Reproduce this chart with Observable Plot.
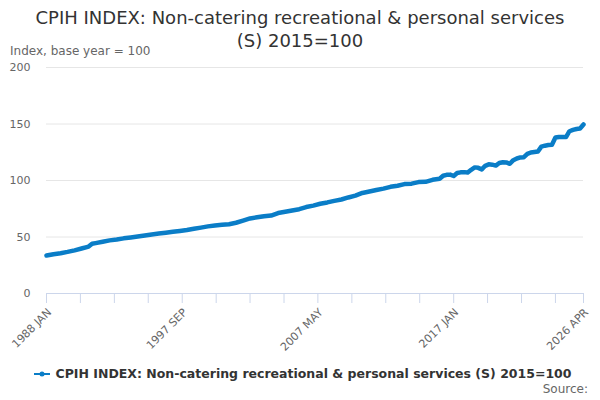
<!DOCTYPE html>
<html>
<head>
<meta charset="utf-8">
<script src="https://cdn.jsdelivr.net/npm/d3@7"></script>
<script src="https://cdn.jsdelivr.net/npm/@observablehq/plot@0.6"></script>
<style>
  body { margin: 0; background: #fff; font-family: "DejaVu Sans", sans-serif; }
  #wrap { position: relative; width: 600px; height: 400px; overflow: hidden; }
  #chart { position: absolute; left: 0; top: 0; }
  .t { position: absolute; white-space: nowrap; }
  #title { left: 0; width: 600px; top: 6px; text-align: center; font-size: 18px; line-height: 23px; color: #333; }
  #sub { left: 10px; top: 44px; font-size: 12px; color: #666; }
  #legend { left: 3px; width: 600px; top: 366px; text-align: center; font-size: 12.5px; font-weight: bold; color: #333; }
  #legend svg { vertical-align: -1px; margin-right: 5px; }
  #source { right: 12px; top: 382px; font-size: 12px; color: #666; }
</style>
</head>
<body>
<div id="wrap">
  <div id="chart"></div>
  <div class="t" id="title">CPIH INDEX: Non-catering recreational &amp; personal services<br>(S) 2015=100</div>
  <div class="t" id="sub">Index, base year = 100</div>
  <div class="t" id="legend"><svg width="16" height="10"><line x1="0" y1="5" x2="16" y2="5" stroke="#0a7dc7" stroke-width="2"/><circle cx="8" cy="5" r="2.5" fill="#0a7dc7"/></svg>CPIH INDEX: Non-catering recreational &amp; personal services (S) 2015=100</div>
  <div class="t" id="source">Source:</div>
</div>
<script>
const periods = [
  "1988 JAN","1988 JUL","1989 JAN","1989 JUL","1990 JAN","1990 JUL",
  "1991 JAN","1991 APR","1991 JUL","1992 JAN","1992 JUL","1993 JAN","1993 JUL",
  "1994 JAN","1994 JUL","1995 JAN","1995 JUL","1996 JAN","1996 JUL",
  "1997 JAN","1997 JUL","1998 JAN","1998 JUL","1999 JAN","1999 JUL",
  "2000 JAN","2000 JUL","2001 JAN","2001 JUL","2002 JAN","2002 JUL",
  "2003 JAN","2003 JUL","2004 JAN","2004 JUL","2005 JAN","2005 JUL",
  "2006 JAN","2006 JUL","2007 JAN","2007 JUL","2008 JAN","2008 JUL",
  "2009 JAN","2009 JUL","2010 JAN","2010 JUL","2011 JAN","2011 JUL",
  "2012 JAN","2012 JUL","2013 JAN","2013 JUL","2014 JAN","2014 JUL",
  "2015 JAN","2015 JUL",
  "2016 JAN","2016 APR","2016 JUL","2016 OCT",
  "2017 JAN","2017 APR","2017 JUL","2017 OCT",
  "2018 JAN","2018 APR","2018 JUL","2018 OCT",
  "2019 JAN","2019 APR","2019 JUL","2019 OCT",
  "2020 JAN","2020 APR","2020 JUL","2020 OCT",
  "2021 JAN","2021 APR","2021 JUL","2021 OCT",
  "2022 JAN","2022 APR","2022 JUL","2022 OCT",
  "2023 JAN","2023 APR","2023 JUL","2023 OCT",
  "2024 JAN","2024 APR","2024 JUL","2024 OCT",
  "2025 JAN","2025 APR","2025 JUL","2025 OCT",
  "2026 JAN","2026 APR"
];
const values = [
  33.6,34.8,35.6,36.8,38.2,39.8,
  41.5,44.0,44.6,45.8,47.0,47.8,48.8,
  49.6,50.5,51.4,52.3,53.0,53.8,
  54.6,55.4,56.2,57.3,58.3,59.4,
  60.2,60.8,61.3,62.6,64.5,66.4,
  67.4,68.3,69.0,71.2,72.3,73.5,
  74.6,76.5,77.8,79.4,80.6,82.0,
  83.2,85.0,86.6,89.0,90.3,91.6,
  92.8,94.4,95.4,96.8,97.2,98.6,
  98.8,100.6,
  101.5,104.2,105.0,105.2,
  104.0,106.6,107.2,107.4,
  107.0,109.5,111.6,111.2,
  109.8,113.0,114.3,114.0,
  113.2,115.5,116.2,116.0,
  114.8,118.0,119.5,120.4,
  120.6,123.5,124.8,125.2,
  125.6,130.0,130.8,131.4,
  131.6,138.0,138.5,138.6,
  138.4,143.6,144.8,145.6,
  146.0,149.6
];
const tickPeriods = [
  "1988 JAN","1990 JUN","1992 NOV","1995 APR","1997 SEP","2000 FEB","2002 JUL","2004 DEC",
  "2007 MAY","2009 OCT","2012 MAR","2014 AUG","2017 JAN","2019 JUN","2021 NOV","2024 APR","2026 APR"
];
const labelPeriods = ["1988 JAN","1997 SEP","2007 MAY","2017 JAN","2026 APR"];
const yTicks = [0, 50, 100, 150, 200];

const parse = d3.utcParse("%Y %b");
const data = periods.map((p, i) => ({date: parse(p), value: values[i]}));
const ticks = tickPeriods.map(parse);
const labels = labelPeriods.map(p => ({date: parse(p), label: p}));

const chart = Plot.plot({
  width: 600,
  height: 400,
  marginTop: 67,
  marginBottom: 107,
  marginLeft: 46,
  marginRight: 17,
  style: {fontFamily: "DejaVu Sans, sans-serif", fontSize: "11px", background: "transparent", overflow: "visible"},
  x: {type: "utc", domain: [parse("1988 JAN"), parse("2026 APR")]},
  y: {domain: [0, 200]},
  marks: [
    Plot.gridY([50, 100, 150, 200], {stroke: "#e6e6e6", strokeOpacity: 1}),
    Plot.axisY(yTicks, {tickSize: 0, tickPadding: 16, fill: "#666", label: null, fontSize: 11}),
    Plot.ruleY([0], {stroke: "#ccd6eb"}),
    Plot.axisX(ticks, {tickSize: 10, stroke: "#ccd6eb", strokeOpacity: 1, tickFormat: () => "", label: null}),
    Plot.text(labels, {x: "date", y: () => 0, text: "label", rotate: -45, textAnchor: "end", dx: 3, dy: 17, fill: "#666", fontSize: 11}),
    Plot.line(data, {x: "date", y: "value", stroke: "#0a7dc7", strokeWidth: 4.5, curve: "linear"})
  ]
});
document.getElementById("chart").appendChild(chart);
</script>
</body>
</html>
